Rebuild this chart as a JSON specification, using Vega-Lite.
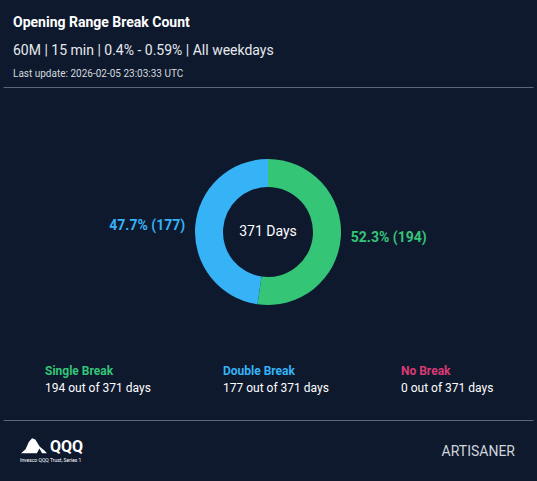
{
  "$schema": "https://vega.github.io/schema/vega-lite/v6.json",
  "background": "#0e192d",
  "padding": {"left": 3, "right": 4, "top": 16, "bottom": 0},
  "autosize": {"type": "pad"},
  "title": {
    "text": "Opening Range Break Count",
    "subtitle": "60M | 15 min | 0.4% - 0.59% | All weekdays",
    "anchor": "start",
    "dx": 10,
    "font": "Roboto",
    "fontSize": 14,
    "fontWeight": "bold",
    "color": "#ffffff",
    "subtitleFont": "Roboto",
    "subtitleFontSize": 14,
    "subtitleColor": "#e6e9ee",
    "subtitlePadding": 14,
    "offset": 11
  },
  "datasets": {
    "breaks": [
      {"category": "Single Break", "count": 194, "label": "52.3% (194)", "detail": "194 out of 371 days"},
      {"category": "Double Break", "count": 177, "label": "47.7% (177)", "detail": "177 out of 371 days"},
      {"category": "No Break", "count": 0, "label": "0.0% (0)", "detail": "0 out of 371 days"}
    ],
    "center": [{"label": "371 Days", "total": 371}],
    "footer": [
      {"item": "logo", "text": "QQQ", "sub": "Invesco QQQ Trust, Series 1"},
      {"item": "brand", "text": "ARTISANER", "sub": ""}
    ]
  },
  "spacing": 15,
  "vconcat": [
    {
      "width": 530,
      "height": 214,
      "title": {
        "text": "Last update: 2026-02-05 23:03:33 UTC",
        "anchor": "start",
        "dx": 10,
        "font": "Roboto",
        "fontSize": 10,
        "fontWeight": "normal",
        "color": "#d5d9df",
        "offset": 8
      },
      "layer": [
        {
          "data": {"name": "breaks"},
          "mark": {"type": "arc", "innerRadius": 45, "outerRadius": 73},
          "encoding": {
            "theta": {"field": "count", "type": "quantitative", "stack": true},
            "order": {"field": "category", "type": "nominal", "sort": "descending"},
            "color": {
              "field": "category",
              "type": "nominal",
              "scale": {"domain": ["Single Break", "Double Break", "No Break"], "range": ["#34c577", "#36b3f6", "#db3a74"]},
              "legend": null
            }
          }
        },
        {
          "data": {"name": "breaks"},
          "mark": {"type": "text", "radius": 83, "align": "left", "baseline": "middle", "font": "Roboto", "fontSize": 14, "fontWeight": "bold"},
          "encoding": {
            "theta": {"field": "count", "type": "quantitative", "stack": true},
            "order": {"field": "category", "type": "nominal", "sort": "descending"},
            "text": {"condition": {"test": "datum.category === 'Single Break'", "field": "label"}, "value": ""},
            "color": {"field": "category", "type": "nominal", "legend": null}
          }
        },
        {
          "data": {"name": "breaks"},
          "mark": {"type": "text", "radius": 83, "align": "right", "baseline": "middle", "font": "Roboto", "fontSize": 14, "fontWeight": "bold"},
          "encoding": {
            "theta": {"field": "count", "type": "quantitative", "stack": true},
            "order": {"field": "category", "type": "nominal", "sort": "descending"},
            "text": {"condition": {"test": "datum.category === 'Double Break'", "field": "label"}, "value": ""},
            "color": {"field": "category", "type": "nominal", "legend": null}
          }
        },
        {
          "data": {"name": "center"},
          "mark": {"type": "text", "align": "center", "baseline": "middle", "font": "Roboto", "fontSize": 14, "color": "#ffffff"},
          "encoding": {
            "x": {
              "datum": 0,
              "type": "quantitative",
              "scale": {"domain": [-1, 1]},
              "axis": {"orient": "top", "offset": 38, "labels": false, "ticks": false, "grid": false, "title": null, "domainColor": "#5c6879", "domainWidth": 1}
            },
            "text": {"field": "label"}
          }
        }
      ]
    },
    {
      "width": 440,
      "height": 51,
      "data": {"name": "breaks"},
      "transform": [{"fold": ["category", "detail"], "as": ["line", "text"]}],
      "encoding": {
        "x": {
          "field": "category",
          "type": "nominal",
          "scale": {"type": "point", "domain": ["Single Break", "Double Break", "No Break"], "padding": 0.236},
          "axis": null
        },
        "y": {
          "field": "line",
          "type": "nominal",
          "scale": {"type": "point", "domain": ["category", "detail"], "padding": 1},
          "axis": null
        }
      },
      "layer": [
        {
          "transform": [{"filter": "datum.line === 'category'"}],
          "mark": {"type": "text", "align": "left", "baseline": "middle", "font": "Roboto", "fontSize": 12, "fontWeight": "bold"},
          "encoding": {
            "text": {"field": "text"},
            "color": {"field": "category", "type": "nominal", "legend": null}
          }
        },
        {
          "transform": [{"filter": "datum.line === 'detail'"}],
          "mark": {"type": "text", "align": "left", "baseline": "middle", "font": "Roboto", "fontSize": 12, "color": "#ffffff"},
          "encoding": {"text": {"field": "text"}}
        }
      ]
    },
    {
      "width": 530,
      "height": 62,
      "data": {"name": "footer"},
      "encoding": {
        "x": {
          "field": "item",
          "type": "nominal",
          "scale": {"type": "point", "domain": ["logo", "brand"], "padding": 0},
          "axis": {"orient": "top", "labels": false, "ticks": false, "grid": false, "title": null, "domainColor": "#5c6879", "domainWidth": 1}
        }
      },
      "layer": [
        {
          "transform": [{"filter": "datum.item === 'logo'"}],
          "mark": {"type": "text", "align": "left", "baseline": "middle", "dx": 47, "dy": -4, "font": "Roboto", "fontSize": 16, "fontWeight": "bold", "color": "#ffffff"},
          "encoding": {"text": {"field": "text"}}
        },
        {
          "transform": [{"filter": "datum.item === 'logo'"}],
          "mark": {"type": "text", "align": "left", "baseline": "middle", "dx": 17, "dy": 9, "font": "Roboto", "fontSize": 5, "color": "#ffffff"},
          "encoding": {"text": {"field": "sub"}}
        },
        {
          "transform": [{"filter": "datum.item === 'logo'"}],
          "mark": {
            "type": "point",
            "filled": true,
            "opacity": 1,
            "color": "#ffffff",
            "size": 676,
            "xOffset": 31,
            "yOffset": -5,
            "shape": "M-1,0.55 L-0.65,0.25 L-0.4,-0.3 L-0.15,-0.6 L0.1,-0.5 L0.45,0.05 L0.8,0.35 L1,0.55 L0.62,0.55 L0.42,0.2 L0.22,0.55 Z"
          },
          "encoding": {}
        },
        {
          "transform": [{"filter": "datum.item === 'brand'"}],
          "mark": {"type": "text", "align": "right", "baseline": "middle", "dx": -18, "dy": 1, "font": "Roboto", "fontSize": 14, "color": "#d0d5dc"},
          "encoding": {"text": {"field": "text"}}
        }
      ]
    }
  ],
  "config": {
    "view": {"stroke": null},
    "font": "Roboto"
  }
}
